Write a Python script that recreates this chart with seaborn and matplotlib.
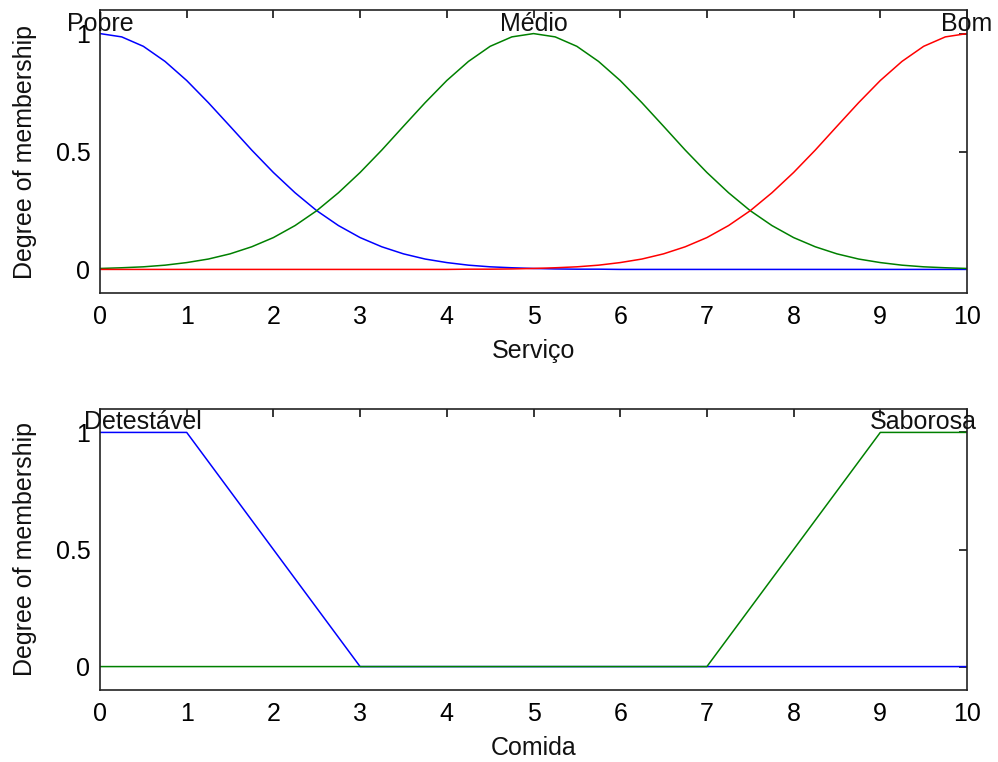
import numpy as np
import pandas as pd
import matplotlib
matplotlib.use("Agg")
import matplotlib.pyplot as plt
import seaborn as sns

# ---- Data: Serviço (top) ----
serv_x = [0.0, 0.25, 0.5, 0.75, 1.0, 1.25, 1.5, 1.75, 2.0, 2.25, 2.5, 2.75, 3.0,
          3.25, 3.5, 3.75, 4.0, 4.25, 4.5, 4.75, 5.0, 5.25, 5.5, 5.75, 6.0,
          6.25, 6.5, 6.75, 7.0, 7.25, 7.5, 7.75, 8.0, 8.25, 8.5, 8.75, 9.0,
          9.25, 9.5, 9.75, 10.0]
pobre = [1.000, 0.986, 0.946, 0.882, 0.801, 0.707, 0.607, 0.506, 0.411, 0.325,
         0.249, 0.186, 0.135, 0.096, 0.066, 0.044, 0.029, 0.018, 0.011, 0.007,
         0.004, 0.002, 0.001, 0.001, 0.000, 0.000, 0.000, 0.000, 0.000, 0.000,
         0.000, 0.000, 0.000, 0.000, 0.000, 0.000, 0.000, 0.000, 0.000, 0.000,
         0.000]
medio = [0.004, 0.007, 0.011, 0.018, 0.029, 0.044, 0.066, 0.096, 0.135, 0.186,
         0.249, 0.325, 0.411, 0.506, 0.607, 0.707, 0.801, 0.882, 0.946, 0.986,
         1.000, 0.986, 0.946, 0.882, 0.801, 0.707, 0.607, 0.506, 0.411, 0.325,
         0.249, 0.186, 0.135, 0.096, 0.066, 0.044, 0.029, 0.018, 0.011, 0.007,
         0.004]
bom = [0.000, 0.000, 0.000, 0.000, 0.000, 0.000, 0.000, 0.000, 0.000, 0.000,
       0.000, 0.000, 0.000, 0.000, 0.000, 0.000, 0.000, 0.001, 0.001, 0.002,
       0.004, 0.007, 0.011, 0.018, 0.029, 0.044, 0.066, 0.096, 0.135, 0.186,
       0.249, 0.325, 0.411, 0.506, 0.607, 0.707, 0.801, 0.882, 0.946, 0.986,
       1.000]
serv_names = ["Pobre", "Médio", "Bom"]
serv_label_x = [0, 5, 10]

# ---- Data: Comida (bottom) ----
detest_x = [0, 1, 3, 10]
detest_y = [1, 1, 0, 0]
sabor_x = [0, 7, 9, 10]
sabor_y = [0, 0, 1, 1]
comida_names = ["Detestável", "Saborosa"]
comida_label_x = [0.5, 9.5]

x_ticks = [0, 1, 2, 3, 4, 5, 6, 7, 8, 9, 10]
y_ticks = [0, 0.5, 1]
y_tick_labels = ["0", "0.5", "1"]

colors = ["#0000ff", "#008000", "#ff0000"]
FS = 18

sns.set_theme(style="white")
plt.rcParams["font.family"] = ["Liberation Sans", "DejaVu Sans"]
plt.rcParams["font.size"] = FS

top_df = pd.concat([
    pd.DataFrame({"x": serv_x, "y": pobre, "mf": "Pobre"}),
    pd.DataFrame({"x": serv_x, "y": medio, "mf": "Médio"}),
    pd.DataFrame({"x": serv_x, "y": bom, "mf": "Bom"}),
])
bot_df = pd.concat([
    pd.DataFrame({"x": detest_x, "y": detest_y, "mf": "Detestável"}),
    pd.DataFrame({"x": sabor_x, "y": sabor_y, "mf": "Saborosa"}),
])

fig = plt.figure(figsize=(9.98, 7.62), dpi=100)
W, H = 998, 762
ax1 = fig.add_axes([100 / W, 1 - 293 / H, 867 / W, 283 / H])
ax2 = fig.add_axes([100 / W, 1 - 690 / H, 867 / W, 281 / H])

sns.lineplot(data=top_df, x="x", y="y", hue="mf", palette=colors,
             hue_order=serv_names, sort=False, linewidth=1.1, legend=False,
             ax=ax1, estimator=None)
sns.lineplot(data=bot_df, x="x", y="y", hue="mf", palette=colors[:2],
             hue_order=comida_names, sort=False, linewidth=1.1, legend=False,
             ax=ax2, estimator=None)

for ax, names, lx, xlabel in [(ax1, serv_names, serv_label_x, "Serviço"),
                               (ax2, comida_names, comida_label_x, "Comida")]:
    ax.set_xlim(0, 10)
    ax.set_ylim(-0.1, 1.1)
    ax.set_xticks(x_ticks)
    ax.set_yticks(y_ticks)
    ax.set_yticklabels(y_tick_labels)
    ax.tick_params(axis="x", direction="in", length=6, width=1.1, top=True,
                   labelsize=FS, colors="black", pad=8.5)
    ax.tick_params(axis="y", direction="in", length=6, width=1.1, right=True,
                   labelsize=FS, colors="black", pad=7)
    for s in ax.spines.values():
        s.set_color("#222222")
        s.set_linewidth(1.2)
    ax.set_xlabel(xlabel, fontsize=FS, labelpad=7, color="#111111")
    ax.set_ylabel("Degree of membership", fontsize=FS, labelpad=13, color="#111111")
    for n, p in zip(names, lx):
        ax.annotate(n, xy=(p, 1.0), xytext=(0, 3), textcoords="offset pixels",
                    ha="center", va="baseline", fontsize=FS, color="#111111",
                    annotation_clip=False)

fig.savefig("out.png", dpi=100)
